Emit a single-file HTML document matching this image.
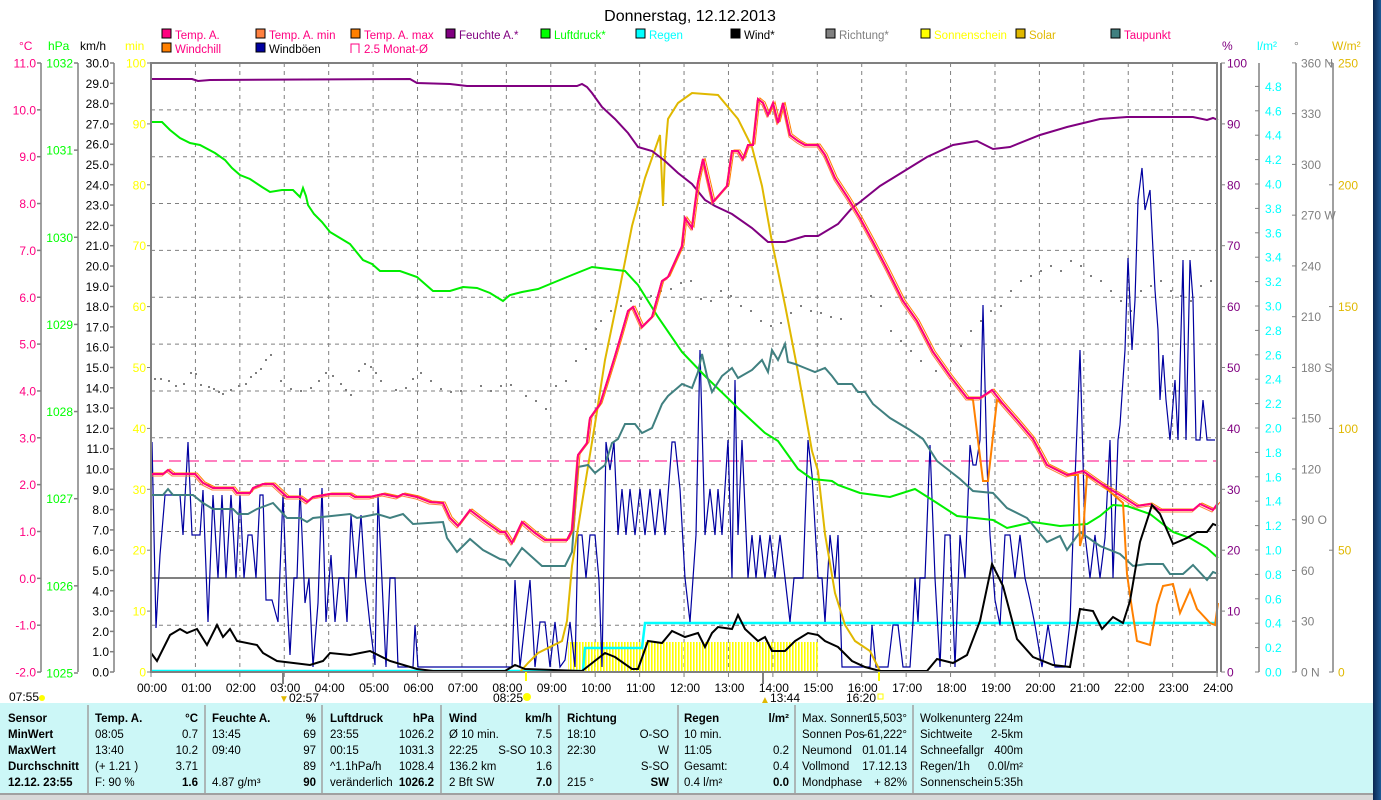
<!DOCTYPE html>
<html><head><meta charset="utf-8"><style>
html,body{margin:0;padding:0;background:#fff;}
body{width:1381px;height:800px;overflow:hidden;position:relative;font-family:"Liberation Sans",sans-serif;}
svg{position:absolute;left:0;top:0;}
text{font-family:"Liberation Sans",sans-serif;}
</style></head><body>
<svg id="s" width="1381" height="800" viewBox="0 0 1381 800" xmlns="http://www.w3.org/2000/svg">
<defs>
<linearGradient id="bg" x1="0" y1="0" x2="1" y2="0"><stop offset="0" stop-color="#0b2750"/><stop offset="1" stop-color="#1e5a96"/></linearGradient>
<pattern id="hatch" width="3" height="10" patternUnits="userSpaceOnUse"><rect x="0" y="0" width="1.6" height="10" fill="#ffff00"/></pattern>
</defs>
<rect x="1373" y="0" width="8" height="800" fill="url(#bg)"/>
<text x="690" y="21" font-size="16" text-anchor="middle" fill="#000">Donnerstag, 12.12.2013</text>
<g id="legend" font-size="11.5"></g>
<g id="grid"></g>
<g id="axes"></g>
<rect x="568" y="642" width="250" height="30" fill="url(#hatch)"/>
<line x1="151" y1="461" x2="1217" y2="461" stroke="#ff0080" stroke-width="1" stroke-dasharray="12,6"/>
<line x1="151" y1="578" x2="1217" y2="578" stroke="#808080" stroke-width="2"/>
<g id="dots" fill="#808080"></g>
<polyline fill="none" stroke="#00ffff" stroke-width="2.5" points="151,671 583,671 585,648 642,648 645,623 1217,623"/>
<polyline fill="none" stroke="#0000a0" stroke-width="1.2" points="152,442 156,628 160,555 165,495 180,495 183,535 188,442 192,535 200,535 203,490 208,622 213,495 218,578 222,495 226,578 231,495 236,578 240,495 244,578 248,535 252,535 256,578 260,495 263,495 266,600 272,600 278,622 283,495 287,600 290,655 294,578 297,578 300,488 305,603 309,578 313,667 318,603 322,488 326,622 331,555 335,622 339,578 344,578 347,622 351,515 356,578 361,515 365,578 370,625 375,665 378,495 386,667 390,578 395,578 398,667 413,667 415,625 418,667 505,667 512,667 515,580 520,667 530,580 535,667 540,622 545,622 550,667 555,622 560,667 565,660 570,622 575,667 578,535 582,535 586,578 590,535 595,535 599,580 602,667 606,442 610,470 614,442 618,535 622,489 626,535 630,489 635,535 640,489 645,535 650,489 655,535 660,489 665,535 672,442 675,442 680,489 685,578 690,622 696,535 700,350 705,535 710,489 715,535 718,489 722,535 728,440 732,578 735,380 738,535 742,440 748,578 752,535 756,578 760,535 765,578 770,535 775,578 780,535 785,578 790,622 794,578 803,578 808,440 812,475 818,578 822,578 825,622 830,535 835,578 838,535 842,667 870,667 872,625 876,667 888,667 893,625 898,625 903,667 910,667 913,622 915,578 918,622 920,578 925,578 930,445 935,578 940,667 945,535 950,535 955,667 960,535 965,578 970,445 973,465 976,465 980,440 983,305 987,465 990,535 995,600 1000,625 1005,535 1010,535 1015,578 1020,535 1025,578 1030,600 1035,625 1042,667 1048,625 1055,667 1065,667 1070,622 1075,480 1080,350 1085,535 1090,578 1095,535 1100,578 1105,538 1110,440 1113,578 1118,440 1120,425 1125,350 1128,258 1132,350 1135,300 1138,200 1142,168 1145,210 1150,190 1155,290 1158,330 1160,400 1163,355 1166,400 1170,440 1175,380 1178,440 1183,260 1186,440 1190,260 1193,300 1196,440 1200,440 1203,400 1207,440 1212,440 1215,440"/>
<polyline fill="none" stroke="#e0b800" stroke-width="2" points="520,672 528,663 538,653 562,641 567,621 572,566 582,503 595,424 605,360 618,297 632,226 645,178 660,135 663,206 665,155 668,119 678,103 692,93 718,95 738,119 752,147 762,186 772,242 785,305 798,372 812,451 818,471 825,534 835,593 845,625 855,641 870,651 877,665 880,671"/>
<polyline fill="none" stroke="#00ee00" stroke-width="2" points="151,122 162,122 170,130 180,138 190,143 200,145 215,153 225,160 232,168 240,175 250,179 262,187 270,192 282,190 293,190 300,197 303,188 306,196 308,205 314,214 322,222 330,232 340,238 350,244 363,260 372,264 380,271 400,271 417,277 433,291 450,291 463,287 477,288 490,293 503,301 510,295 522,292 538,289 555,282 572,275 592,267 625,271 638,285 658,317 682,352 705,376 738,408 765,433 778,441 798,469 812,479 832,481 838,485 860,493 890,497 915,489 937,503 957,516 993,520 1007,528 1033,522 1060,526 1087,524 1100,516 1113,505 1127,506 1150,514 1173,532 1190,538 1207,548 1218,558"/>
<polyline fill="none" stroke="#800080" stroke-width="2" points="151,79 192,79 198,81 210,80 410,79 417,83 450,84 467,86 577,86 582,84 587,87 592,93 602,107 615,119 628,133 638,147 652,151 665,161 678,173 692,184 705,200 715,206 732,214 752,228 768,242 785,242 805,236 818,236 838,224 852,208 860,202 880,186 893,178 927,157 953,145 977,141 993,149 1010,147 1040,135 1067,127 1100,119 1127,117 1193,117 1207,120 1213,118 1218,120"/>
<polyline fill="none" stroke="#408080" stroke-width="2" points="151,495 163,495 168,489 173,495 193,495 203,503 213,509 233,509 238,514 248,514 257,509 273,503 287,518 300,518 307,522 313,518 350,514 357,518 377,514 390,518 403,514 413,524 443,522 447,538 457,552 470,539 483,550 500,559 505,560 510,566 522,548 542,566 565,566 572,552 578,467 588,465 595,473 605,465 612,443 618,439 625,424 635,424 642,433 652,428 662,404 668,396 682,384 692,388 698,372 702,354 707,376 712,392 722,376 732,368 738,378 752,370 762,360 768,372 772,350 778,360 785,344 788,362 795,364 805,368 815,372 825,368 832,376 838,384 852,384 858,392 865,392 873,404 890,418 910,430 923,439 937,461 960,479 973,491 993,493 1007,508 1027,518 1047,542 1060,536 1067,550 1080,532 1100,546 1120,554 1133,566 1147,564 1163,564 1170,574 1183,574 1193,565 1207,580 1213,572 1218,574"/>
<polyline id="tmax" fill="none" stroke="#ff8000" stroke-width="1" transform="translate(2,-1)" points=""/>
<polyline id="tmin" fill="none" stroke="#ff8040" stroke-width="1" transform="translate(-1,2)" points=""/>
<polyline id="wc" fill="none" stroke="#ff8000" stroke-width="2" points=""/>
<polyline id="temp" fill="none" stroke="#ff0080" stroke-width="2" points=""/>
<polyline fill="none" stroke="#000" stroke-width="2" points="151,653 157,661 170,635 180,629 187,633 197,629 207,645 217,625 223,637 230,629 237,641 257,645 263,653 277,661 310,665 323,661 330,653 350,655 370,651 390,661 417,669 433,671 505,671 515,665 525,669 582,671 605,653 615,657 632,669 638,669 648,641 662,643 672,631 685,637 698,633 705,647 712,633 718,627 732,629 738,615 745,629 758,641 765,637 772,651 785,651 795,641 808,633 818,635 825,641 838,647 852,661 865,667 880,671 927,671 937,659 953,663 967,655 980,621 992,564 1003,586 1017,639 1033,657 1053,665 1070,667 1080,609 1093,611 1102,629 1113,617 1123,623 1130,601 1140,542 1152,505 1160,514 1173,544 1187,538 1197,532 1207,532 1213,524 1218,526"/>
<rect x="151" y="63" width="1066" height="609" fill="none" stroke="#808080" stroke-width="2"/>
<line x1="1221" y1="63" x2="1221" y2="672" stroke="#808080" stroke-width="2"/>
<g id="xl" font-size="12"></g>
<g font-size="12" fill="#000">
<text x="9" y="701">07:55</text><circle cx="42" cy="698" r="3" fill="#ffff00"/>
<line x1="283" y1="672" x2="283" y2="684" stroke="#808080" stroke-width="2"/>
<text x="289" y="702">02:57</text><text x="279" y="702" fill="#e0b800" font-size="10">▼</text>
<line x1="526" y1="672" x2="526" y2="681" stroke="#ffff00" stroke-width="2"/>
<text x="493" y="702">08:25</text><circle cx="527" cy="697" r="4" fill="#ffff00"/>
<line x1="763" y1="672" x2="763" y2="684" stroke="#808080" stroke-width="2"/>
<text x="770" y="702">13:44</text><text x="760" y="703" fill="#e0b800" font-size="10">▲</text>
<line x1="879" y1="672" x2="879" y2="681" stroke="#ffff00" stroke-width="2"/>
<text x="846" y="702">16:20</text><rect x="878" y="694" width="5" height="5" fill="none" stroke="#ffff00"/>
</g>
<rect x="0" y="703" width="1373" height="90" fill="#ccf7f7"/>
<rect x="0" y="794" width="1373" height="6" fill="#d8d8d8"/>
<line x1="0" y1="794" x2="1373" y2="794" stroke="#a0a0a0" stroke-width="2"/>
<g stroke="#a0a0a0" stroke-width="1.5">
<line x1="88" y1="705" x2="88" y2="793"/><line x1="205" y1="705" x2="205" y2="793"/><line x1="322" y1="705" x2="322" y2="793"/><line x1="441" y1="705" x2="441" y2="793"/><line x1="559" y1="705" x2="559" y2="793"/><line x1="678" y1="705" x2="678" y2="793"/><line x1="795" y1="705" x2="795" y2="793"/><line x1="913" y1="705" x2="913" y2="793"/>
</g>
<g id="tbl" font-size="11.5" fill="#000"></g>
</svg>
<script>
var NS="http://www.w3.org/2000/svg";
function el(p,t,a,txt){var e=document.createElementNS(NS,t);for(var k in a)e.setAttribute(k,a[k]);if(txt!=null)e.textContent=txt;p.appendChild(e);return e;}
var temp="151,474 163,474 168,470 173,474 195,474 203,483 213,488 233,488 237,493 250,493 253,488 263,484 273,484 287,497 300,497 307,502 313,497 330,494 350,494 355,497 370,497 383,494 397,497 403,494 417,497 430,502 443,503 450,518 458,526 470,510 483,520 500,532 505,532 512,543 522,522 535,533 545,540 567,540 572,530 578,455 587,443 590,418 600,404 607,382 615,356 620,339 628,311 633,307 642,327 652,317 662,281 668,277 682,246 685,218 692,228 698,182 703,159 713,202 727,186 732,151 738,151 743,159 748,145 753,145 758,99 763,103 768,115 773,103 778,123 783,103 790,135 798,141 805,145 818,145 825,155 835,178 848,198 860,218 873,242 887,269 903,301 917,321 933,352 950,376 967,398 980,398 992,390 1003,404 1017,420 1033,439 1047,465 1067,475 1083,471 1100,483 1123,497 1137,506 1150,504 1160,510 1193,510 1200,504 1213,510 1218,503";
document.getElementById("temp").setAttribute("points",temp);
document.getElementById("tmax").setAttribute("points",temp);
document.getElementById("tmin").setAttribute("points",temp);
var wc=temp.replace("967,398 980,398 992,390 1003,404","967,398 973,400 983,481 988,481 997,400 1003,404").replace("1067,475 1083,471","1067,475 1078,475 1080,546 1083,534 1087,475 1100,483").replace(/1123,497 1137,506.*$/,"1123,503 1127,574 1132,609 1137,641 1150,645 1157,605 1163,586 1173,584 1180,613 1190,590 1197,609 1210,623 1215,625 1218,603");
document.getElementById("wc").setAttribute("points",wc);
var g=document.getElementById("grid");
for(var k=1;k<13;k++){if(k==11)continue;var y=63+k*46.85;el(g,"line",{x1:151,y1:y,x2:1217,y2:y,stroke:"#808080","stroke-dasharray":"4,4"});}
for(var h=1;h<24;h++){var x=151+h*44.42;el(g,"line",{x1:x,y1:63,x2:x,y2:672,stroke:"#808080","stroke-dasharray":"4,4"});}
var xl=document.getElementById("xl");
for(var h=0;h<=24;h++){var x=151+h*44.42;el(xl,"line",{x1:x,y1:672,x2:x,y2:677,stroke:"#808080"});el(xl,"text",{x:x+1,y:692,"text-anchor":"middle"},(h<10?"0":"")+h+":00");}
var A=document.getElementById("axes");
function axis(lx,col,labels,labx,anchor,tickdir){el(A,"line",{x1:lx,y1:63,x2:lx,y2:672,stroke:"#808080","stroke-width":1.5});
 labels.forEach(function(l){el(A,"line",{x1:lx,y1:l[0],x2:lx+tickdir*4,y2:l[0],stroke:"#808080","stroke-width":1.5});el(A,"text",{x:labx,y:l[0]+4.5,"text-anchor":anchor,fill:col,"font-size":12},l[1]);});}
var L=[];for(var i=0;i<=13;i++)L.push([63+i*46.85,(11-i).toFixed(1)]);axis(41,"#ff0080",L,36,"end",-1);
L=[];for(var i=0;i<=7;i++)L.push([63+i*87.14,String(1032-i)]);axis(78,"#00ff00",L,73,"end",-1);
L=[];for(var i=0;i<=30;i++)L.push([63+i*20.3,(30-i).toFixed(1)]);axis(114,"#000",L,109,"end",-1);
L=[];for(var i=0;i<=10;i++)L.push([63+i*60.9,String(100-i*10)]);
L.forEach(function(l){el(A,"line",{x1:147,y1:l[0],x2:151,y2:l[0],stroke:"#808080"});el(A,"text",{x:146,y:l[0]+4.5,"text-anchor":"end",fill:"#ffff00","font-size":12},l[1]);});
L.forEach(function(l){el(A,"line",{x1:1221,y1:l[0],x2:1225,y2:l[0],stroke:"#808080"});el(A,"text",{x:1227,y:l[0]+4.5,fill:"#800080","font-size":12},l[1]);});
L=[];for(var i=0;i<=24;i++)L.push([672-i*24.4,(i*0.2).toFixed(1)]);
el(A,"line",{x1:1259,y1:63,x2:1259,y2:672,stroke:"#808080","stroke-width":1.5});
L.forEach(function(l){el(A,"line",{x1:1255,y1:l[0],x2:1259,y2:l[0],stroke:"#808080"});el(A,"text",{x:1265,y:l[0]+4.5,fill:"#00ffff","font-size":12},l[1]);});
var dn={360:"360 N",270:"270 W",180:"180 S",90:"90 O",0:"0  N"};
el(A,"line",{x1:1296,y1:63,x2:1296,y2:672,stroke:"#808080","stroke-width":1.5});
for(var d=0;d<=360;d+=30){var y=672-d*1.692;el(A,"line",{x1:1292,y1:y,x2:1296,y2:y,stroke:"#808080"});el(A,"text",{x:1301,y:y+4.5,fill:"#808080","font-size":12},dn[d]||String(d));}
el(A,"line",{x1:1333,y1:63,x2:1333,y2:672,stroke:"#808080","stroke-width":1.5});
for(var w=0;w<=250;w+=50){var y=672-w*2.436;el(A,"line",{x1:1329,y1:y,x2:1333,y2:y,stroke:"#808080"});el(A,"text",{x:1338,y:y+4.5,fill:"#e0b800","font-size":12},String(w));}
[[19,"°C","#ff0080"],[48,"hPa","#00ff00"],[80,"km/h","#000"],[125,"min","#ffff00"],[1222,"%","#800080"],[1257,"l/m²","#00ffff"],[1294,"°","#808080"],[1332,"W/m²","#e0b800"]].forEach(function(a){el(A,"text",{x:a[0],y:50,fill:a[2],"font-size":12},a[1]);});
var lg=document.getElementById("legend");
[[162,38,"#ff0080","Temp. A.","#ff0080"],[256,38,"#ff8040","Temp. A. min","#ff0080"],[351,38,"#ff8000","Temp. A. max","#ff0080"],[446,38,"#800080","Feuchte A.*","#800080"],[541,38,"#00ff00","Luftdruck*","#00ff00"],[636,38,"#00ffff","Regen","#00ffff"],[731,38,"#000","Wind*","#000"],[826,38,"#808080","Richtung*","#808080"],[921,38,"#ffff00","Sonnenschein","#ffff00"],[1016,38,"#e0b800","Solar","#e0b800"],[1111,38,"#408080","Taupunkt","#ff0080"],[162,52,"#ff8000","Windchill","#ff0080"],[256,52,"#0000a0","Windböen","#000"]].forEach(function(a){el(lg,"rect",{x:a[0],y:a[1]-9,width:9,height:9,fill:a[2],stroke:"#000"});el(lg,"text",{x:a[0]+13,y:a[1]+1,fill:a[4]},a[3]);});
el(lg,"path",{d:"M351 53 V44 H359 V53",fill:"none",stroke:"#ff0080"});el(lg,"text",{x:364,y:53,fill:"#ff0080"},"2.5 Monat-Ø");
var D=document.getElementById("dots");
var dp=[[154,378],[160,378],[168,380],[175,385],[183,383],[190,372],[195,373],[200,384],[208,386],[213,388],[218,391],[222,393],[230,389],[238,385],[245,383],[250,376],[255,372],[260,368],[265,359],[270,354],[280,380],[290,388],[300,390],[310,387],[318,380],[325,372],[332,375],[340,383],[345,389],[350,394],[358,370],[364,363],[370,366],[375,372],[380,380],[395,389],[405,387],[412,378],[420,372],[430,380],[440,388],[450,391],[460,390],[480,385],[490,390],[500,385],[510,384],[525,395],[535,400],[545,408],[555,385],[565,380],[575,360],[585,348],[595,328],[600,320],[610,310],[620,305],[630,300],[640,298],[650,295],[660,290],[670,288],[680,282],[690,280],[700,298],[710,300],[720,290],[730,295],[740,305],[750,310],[760,320],[770,325],[780,322],[790,312],[800,305],[810,310],[820,312],[830,316],[840,318],[870,295],[880,305],[890,330],[900,340],[910,350],[920,360],[935,370],[950,360],[960,345],[970,330],[980,320],[990,310],[1000,305],[1010,290],[1020,280],[1030,275],[1040,270],[1050,265],[1060,270],[1070,260],[1080,265],[1090,275],[1100,280],[1110,290],[1120,300],[1130,310],[1140,290],[1150,285],[1160,280],[1170,290],[1180,295],[1190,300],[1200,285],[1210,280]];
dp.forEach(function(p){el(D,"rect",{x:p[0],y:p[1],width:2,height:2});});
var T=document.getElementById("tbl");
function t(x,y,s,b,anc){var a={x:x,y:y};if(b)a["font-weight"]="bold";if(anc)a["text-anchor"]="end";el(T,"text",a,s);}
var R=[722,738,754,770,786];
["Sensor","MinWert","MaxWert","Durchschnitt","12.12. 23:55"].forEach(function(s,i){t(8,R[i],s,true);});
function col(x1,x2,rows,plain){rows.forEach(function(r,i){var b=!plain&&i==0;if(r[0])t(x1,R[i],r[0],b);if(r[1])t(x2,R[i],r[1],b||(!plain&&i==4),true);});}
col(95,198,[["Temp. A.","°C"],["  08:05","0.7"],["  13:40","10.2"],[" (+ 1.21 )","3.71"],["F: 90 %","1.6"]]);
col(212,316,[["Feuchte A.","%"],["  13:45","69"],["  09:40","97"],["","89"],[" 4.87 g/m³","90"]]);
col(330,434,[["Luftdruck","hPa"],["  23:55","1026.2"],["  00:15","1031.3"],["^1.1hPa/h","1028.4"],["veränderlich","1026.2"]]);
col(449,552,[["Wind","km/h"],["Ø 10 min.","7.5"],["  22:25","S-SO 10.3"],["  136.2 km","1.6"],["  2 Bft SW","7.0"]]);
col(567,669,[["Richtung",""],["  18:10","O-SO"],["  22:30","W"],["","S-SO"],["  215 °","SW"]]);
col(684,789,[["Regen","l/m²"],["10 min.",""],["  11:05","0.2"],["Gesamt:","0.4"],["  0.4 l/m²","0.0"]]);
col(802,907,[["Max. Sonnen","15,503°"],["Sonnen Pos","-61,222°"],["Neumond","01.01.14"],["Vollmond","17.12.13"],["Mondphase","+ 82%"]],true);
col(920,1023,[["Wolkenunterg","224m"],["Sichtweite","2-5km"],["Schneefallgr","400m"],["Regen/1h","0.0l/m²"],["Sonnenschein","5:35h"]],true);
</script>
</body></html>
